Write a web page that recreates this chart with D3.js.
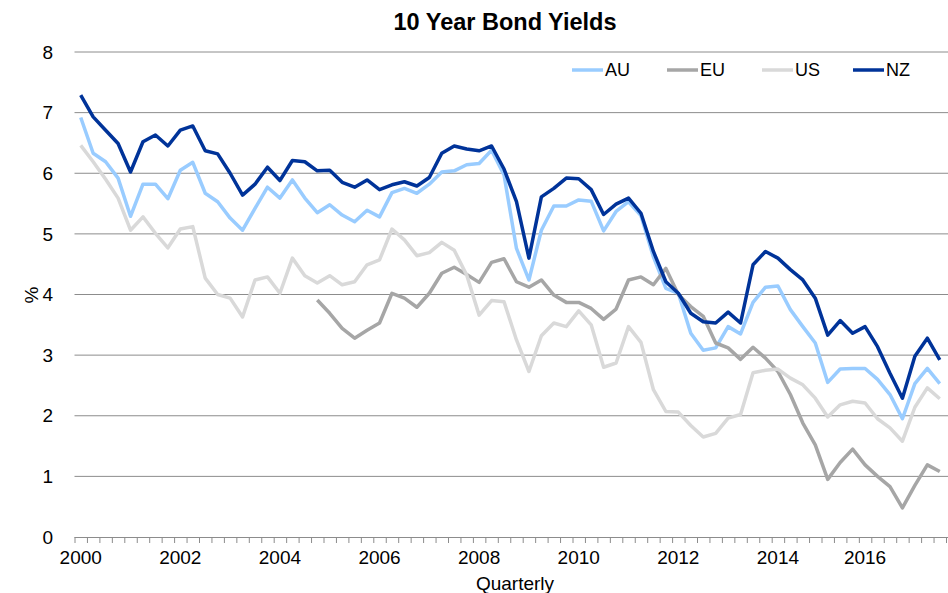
<!DOCTYPE html>
<html>
<head>
<meta charset="utf-8">
<script src="https://cdn.jsdelivr.net/npm/d3@7"></script>
<style>
  body { margin: 0; background: #fff; }
  text { font-family: "Liberation Sans", Arial, sans-serif; fill: #000; }
</style>
</head>
<body>
<div class="chart"></div>
<script>
// quarterly 10 year yields, 2000Q1 .. 2017Q2
var AU = [6.92, 6.33, 6.19, 5.92, 5.29, 5.82, 5.82, 5.58, 6.05, 6.18, 5.67, 5.53,
  5.26, 5.06, 5.42, 5.77, 5.59, 5.89, 5.59, 5.35, 5.48, 5.31, 5.20, 5.39,
  5.28, 5.68, 5.75, 5.67, 5.82, 6.02, 6.04, 6.14, 6.16, 6.38, 5.97, 4.76,
  4.24, 5.06, 5.46, 5.46, 5.56, 5.54, 5.05, 5.37, 5.53, 5.30, 4.62, 4.10,
  4.02, 3.36, 3.08, 3.12, 3.47, 3.35, 3.87, 4.12, 4.14, 3.75, 3.47, 3.20,
  2.55, 2.77, 2.78, 2.78, 2.60, 2.35, 1.95, 2.53, 2.78, 2.53];

var EU = [null, null, null, null, null, null, null, null, null, null, null, null,
  null, null, null, null, null, null, null, 3.91, 3.69, 3.44, 3.28, 3.41,
  3.53, 4.02, 3.94, 3.79, 4.02, 4.35, 4.45, 4.33, 4.20, 4.53, 4.59, 4.21,
  4.12, 4.24, 3.99, 3.87, 3.87, 3.77, 3.59, 3.76, 4.24, 4.29, 4.16, 4.43,
  4.00, 3.80, 3.64, 3.20, 3.12, 2.93, 3.13, 2.95, 2.73, 2.35, 1.88, 1.52,
  0.95, 1.23, 1.45, 1.19, 1.00, 0.83, 0.48, 0.85, 1.19, 1.08];

var US = [6.46, 6.19, 5.90, 5.59, 5.06, 5.28, 5.01, 4.77, 5.08, 5.12, 4.27, 4.00,
  3.94, 3.63, 4.24, 4.29, 4.02, 4.60, 4.31, 4.19, 4.31, 4.16, 4.21, 4.49,
  4.57, 5.08, 4.90, 4.64, 4.69, 4.86, 4.73, 4.32, 3.66, 3.90, 3.88, 3.25,
  2.73, 3.32, 3.53, 3.47, 3.73, 3.50, 2.80, 2.87, 3.47, 3.21, 2.43, 2.07,
  2.06, 1.84, 1.65, 1.71, 1.96, 2.02, 2.71, 2.75, 2.77, 2.62, 2.51, 2.29,
  1.98, 2.18, 2.24, 2.21, 1.95, 1.80, 1.58, 2.14, 2.46, 2.28];

var NZ = [7.29, 6.93, 6.71, 6.49, 6.02, 6.52, 6.63, 6.45, 6.71, 6.78, 6.37, 6.32,
  6.00, 5.64, 5.82, 6.10, 5.88, 6.21, 6.19, 6.04, 6.05, 5.85, 5.77, 5.89,
  5.73, 5.81, 5.86, 5.79, 5.93, 6.33, 6.45, 6.40, 6.37, 6.45, 6.07, 5.53,
  4.60, 5.61, 5.75, 5.92, 5.91, 5.73, 5.32, 5.49, 5.59, 5.34, 4.71, 4.21,
  4.02, 3.69, 3.55, 3.53, 3.71, 3.53, 4.49, 4.71, 4.60, 4.41, 4.24, 3.94,
  3.33, 3.57, 3.36, 3.47, 3.14, 2.70, 2.29, 2.98, 3.28, 2.92];

// category label text and the category it sits under
var yearLabels = ["2000", "2002", "2004", "2006", "2008", "2010", "2012", "2014", "2016"];
var yearIndex = [0, 8, 16, 24, 32, 40, 48, 56, 63];
var yTicks = [0, 1, 2, 3, 4, 5, 6, 7, 8];

var series = [
  { name: "AU", values: AU, color: "#99ccff" },
  { name: "EU", values: EU, color: "#a6a6a6" },
  { name: "US", values: US, color: "#d9d9d9" },
  { name: "NZ", values: NZ, color: "#003399" }
];

var svgWidth = 948, svgHeight = 593;
var margin = { top: 52, left: 74.5, right: 2, bottom: 56 };

var svg = d3.select(".chart").append("svg")
  .attr("width", svgWidth)
  .attr("height", svgHeight);

var n = NZ.length;

// category boundaries (ticks sit between quarters)
var x = d3.scaleLinear()
  .domain([0, n])
  .range([margin.left, 946]);

var y = d3.scaleLinear()
  .domain([0, 8])
  .range([svgHeight - margin.bottom, margin.top]);

// gridlines
svg.append("g")
  .selectAll("line")
  .data(yTicks.slice(1))
  .enter()
  .append("line")
  .attr("x1", margin.left)
  .attr("x2", svgWidth)
  .attr("y1", d => y(d))
  .attr("y2", d => y(d))
  .attr("stroke", "#8c8c8c")
  .attr("stroke-width", 1);

// y labels
svg.append("g")
  .selectAll("text")
  .data(yTicks)
  .enter()
  .append("text")
  .attr("x", 53)
  .attr("y", d => y(d))
  .attr("dy", "0.35em")
  .attr("text-anchor", "end")
  .style("font-size", "19px")
  .text(d => d);

// x axis with a tick between every quarter
var xAxis = d3.axisBottom(x)
  .tickValues(d3.range(n + 1))
  .tickFormat("")
  .tickSize(6)
  .tickSizeOuter(0);

var axisG = svg.append("g")
  .attr("transform", `translate(0, ${y(0)})`)
  .call(xAxis);
axisG.select(".domain").attr("stroke", "#8c8c8c").attr("d", `M${margin.left},0.5H${svgWidth}`);
axisG.selectAll(".tick line").attr("stroke", "#8c8c8c");

svg.append("g")
  .selectAll("text")
  .data(yearLabels)
  .enter()
  .append("text")
  .attr("x", (d, i) => x(yearIndex[i] + 0.5))
  .attr("y", y(0) + 27)
  .attr("text-anchor", "middle")
  .style("font-size", "19px")
  .text(d => d);

// lines
var line = d3.line()
  .defined(d => d != null)
  .x((d, i) => x(i + 0.5))
  .y(d => y(d));

svg.append("g")
  .selectAll("path")
  .data(series)
  .enter()
  .append("path")
  .attr("d", d => line(d.values))
  .attr("fill", "none")
  .attr("stroke", d => d.color)
  .attr("stroke-width", 3.5)
  .attr("stroke-linejoin", "round");

// title and axis titles
svg.append("text")
  .attr("x", 505)
  .attr("y", 30)
  .attr("text-anchor", "middle")
  .style("font-size", "23.5px")
  .style("font-weight", "bold")
  .text("10 Year Bond Yields");

svg.append("text")
  .attr("transform", "rotate(-90)")
  .attr("x", -295)
  .attr("y", 38)
  .attr("text-anchor", "middle")
  .style("font-size", "19px")
  .text("%");

svg.append("text")
  .attr("x", 515)
  .attr("y", 590)
  .attr("text-anchor", "middle")
  .style("font-size", "19px")
  .text("Quarterly");

// legend
var legendX = [572, 667, 762, 853];
var legend = svg.append("g")
  .selectAll("g")
  .data(series)
  .enter()
  .append("g")
  .attr("transform", (d, i) => `translate(${legendX[i]}, 70)`);

legend.append("line")
  .attr("x1", 0)
  .attr("x2", 31)
  .attr("stroke", d => d.color)
  .attr("stroke-width", 3.5);

legend.append("text")
  .attr("x", 33)
  .attr("dy", "0.35em")
  .style("font-size", "18px")
  .text(d => d.name);
</script>
</body>
</html>
